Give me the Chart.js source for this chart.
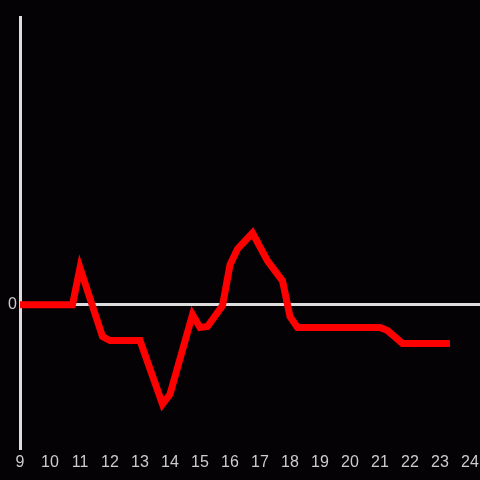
<!DOCTYPE html>
<html lang="en">
<head>
    <meta charset="UTF-8">
    <title>Line chart</title>
    <style>
        body { margin: 0; padding: 0; background: #040205; }
        #wrap { width: 480px; height: 480px; }
    </style>
</head>
<body>

<div id="wrap"><canvas id="chart" width="480" height="480"></canvas></div>

<script src="https://cdn.jsdelivr.net/npm/chart.js"></script>
<script>
// hours of the day and values
const hours = [9, 10.75, 11, 11.75, 12, 13, 13.75, 14, 14.75, 15, 15.25, 15.75, 16, 16.25, 16.75, 17.25, 17.75, 18, 18.25, 21, 21.25, 21.75, 23.33];
const values = [0, 0, 3.7, -3.2, -3.6, -3.6, -10.0, -9.0, -1.0, -2.3, -2.2, -0.1, 4.0, 5.6, 7.2, 4.4, 2.4, -1.2, -2.3, -2.3, -2.6, -3.9, -3.9];
const xTicks = [9, 10, 11, 12, 13, 14, 15, 16, 17, 18, 19, 20, 21, 22, 23, 24];
const yTicks = [0];

const points = hours.map((h, i) => ({ x: h, y: values[i] }));

new Chart(document.getElementById('chart').getContext('2d'), {
    type: 'line',
    data: {
        datasets: [{
            data: points,
            borderColor: '#ff0000',
            borderWidth: 7,
            pointRadius: 0,
            tension: 0,
            fill: false
        }]
    },
    options: {
        responsive: false,
        animation: false,
        layout: { padding: { top: 17, right: 0, left: 0, bottom: 0 } },
        plugins: { legend: { display: false }, tooltip: { enabled: false } },
        scales: {
            x: {
                type: 'linear',
                min: 9,
                max: 24.333,
                afterBuildTicks: s => { s.ticks = xTicks.map(v => ({ value: v })); },
                grid: { display: false, drawTicks: false },
                border: { display: false },
                ticks: {
                    autoSkip: false,
                    color: '#cccccc',
                    font: { family: 'Liberation Sans, Arial', size: 16 },
                    padding: 5,
                    maxRotation: 0
                },
                afterFit: s => { s.height = 32; s.paddingLeft = 0; s.paddingRight = 0; }
            },
            y: {
                min: -14.4,
                max: 28.9,
                afterBuildTicks: s => { s.ticks = yTicks.map(v => ({ value: v })); },
                grid: { color: '#dddddd', lineWidth: 3, drawTicks: false },
                border: { display: true, color: '#dddddd', width: 3 },
                ticks: {
                    color: '#cccccc',
                    font: { family: 'Liberation Sans, Arial', size: 16 },
                    padding: 3
                },
                afterFit: s => { s.width = 20; s.paddingTop = 0; s.paddingBottom = 0; }
            }
        }
    }
});
</script>

</body>
</html>
